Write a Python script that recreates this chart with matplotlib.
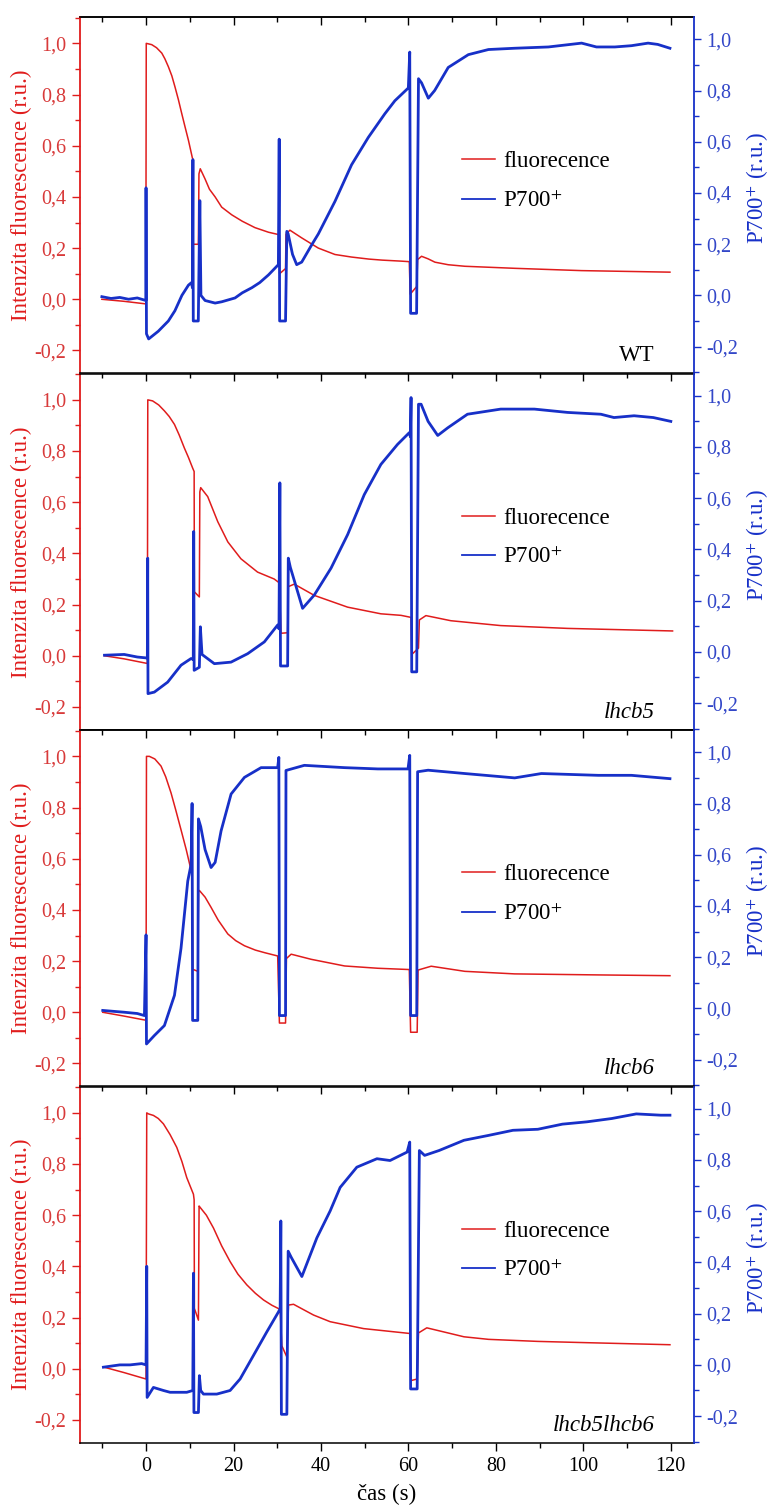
import matplotlib
matplotlib.use('Agg')
import matplotlib.pyplot as plt
from matplotlib.ticker import MultipleLocator, FuncFormatter
from matplotlib.lines import Line2D

plt.rcParams['font.family'] = ['Liberation Serif', 'DejaVu Serif']
plt.rcParams['mathtext.fontset'] = 'stix'

# ---------------- data ----------------
panel_labels = ['WT', 'lhcb5', 'lhcb6', 'lhcb5lhcb6']

# WT
wt_fluo_t = [-10.1, -5, -0.05, 0.05, 1.3, 2.4, 3.6, 4.3, 5.1, 5.9, 6.6, 7.4, 8.16, 8.9, 9.7, 10.6, 10.67, 10.72, 11.97,
             12.1, 12.4, 13.5, 14.5, 15.8, 17.3, 19.6, 22.0, 24.9, 28.0, 30.26, 30.5, 30.55, 31.9, 32.0, 32.9, 35.59,
             39.4, 43.2, 47.0, 51.0, 54.0, 58.4, 60.2, 60.4, 61.9, 62.1, 63.0, 64.5, 66.06, 69.1, 72.9, 84.3, 99.6,
             119.8]
wt_fluo = [0.0, -0.008, -0.018, 1.0, 0.995, 0.983, 0.962, 0.94, 0.909, 0.873, 0.831, 0.78, 0.726, 0.675, 0.621, 0.552,
           0.549, 0.215, 0.215, 0.49, 0.51, 0.47, 0.43, 0.40, 0.36, 0.33, 0.305, 0.28, 0.262, 0.253, 0.25, 0.10, 0.12,
           0.255, 0.27, 0.24, 0.20, 0.175, 0.165, 0.157, 0.153, 0.149, 0.147, 0.02, 0.05, 0.155, 0.168, 0.158, 0.145,
           0.135, 0.129, 0.121, 0.112, 0.106]
wt_p700_t = [-10.1, -8, -6, -4, -2, -0.05, 0.0, 0.1, 0.6, 2.8, 5.1, 6.6, 8.2, 9.7, 10.4, 10.6, 10.72, 10.8, 11.95,
             12.3, 12.55, 13.5, 15.8, 17.3, 20.35, 22.0, 24.2, 26.0, 28.0, 30.26, 30.45, 30.55, 31.9, 32.2, 32.5,
             33.5, 34.45, 35.6, 37.87, 39.4, 43.2, 47.0, 50.83, 54.6, 56.9, 59.98, 60.3, 60.5, 61.87, 62.3, 63.0,
             64.55, 66.0, 69.1, 73.7, 78.3, 84.3, 92.0, 99.6, 103.0, 107.2, 111.0, 114.8, 117.0, 119.8]
wt_p700 = [-0.005, -0.012, -0.008, -0.015, -0.01, -0.02, 0.42, -0.15, -0.17, -0.14, -0.10, -0.06, 0.0, 0.04, 0.05, 0.03,
           0.53, -0.10, -0.10, 0.37, 0.0, -0.02, -0.03, -0.025, -0.01, 0.01, 0.03, 0.05, 0.08, 0.12, 0.61, -0.10,
           -0.10, 0.25, 0.24, 0.16, 0.12, 0.13, 0.197, 0.24, 0.367, 0.51, 0.617, 0.709, 0.76, 0.81, 0.95, -0.07,
           -0.07, 0.846, 0.83, 0.77, 0.80, 0.89, 0.94, 0.96, 0.965, 0.97, 0.985, 0.97, 0.97, 0.975, 0.985, 0.98, 0.965]

# lhcb5
l5_fluo_t = [-9.5, -5, 0.3, 0.4, 1.5, 2.9, 4.2, 5.3, 6.5, 7.6, 8.76, 9.7, 10.67, 11.0, 11.05, 12.19, 12.3, 12.5, 14.1,
             16.4, 18.7, 21.7, 25.5, 29.3, 30.48, 30.86, 32.38, 32.5, 33.9, 38.47, 46.1, 53.7, 58.3, 60.6, 60.75,
             62.3, 62.5, 64.0, 69.7, 81.1, 96.4, 120.4]
l5_fluo = [0.0, -0.012, -0.03, 1.0, 0.996, 0.98, 0.957, 0.935, 0.904, 0.862, 0.812, 0.775, 0.733, 0.72, 0.25, 0.23,
           0.64, 0.657, 0.622, 0.524, 0.445, 0.379, 0.327, 0.30, 0.285, 0.088, 0.09, 0.27, 0.28, 0.236, 0.19, 0.164,
           0.158, 0.15, 0.005, 0.03, 0.14, 0.157, 0.137, 0.118, 0.107, 0.097]
l5_p700_t = [-9.5, -5, -2, 0.3, 0.38, 0.45, 1.9, 4.95, 8.0, 10.29, 10.8, 10.9, 11.0, 12.19, 12.42, 12.8, 15.62,
             19.43, 23.24, 27.05, 30.1, 30.4, 30.6, 30.75, 32.38, 32.53, 33.0, 35.8, 38.47, 42.3, 46.1, 49.9,
             53.7, 57.5, 60.2, 60.45, 60.6, 60.75, 61.9, 62.3, 62.9, 64.5, 66.7, 69.0, 73.5, 81.1, 88.8, 96.4,
             104.0, 107.0, 111.6, 116.0, 120.0]
l5_p700 = [-0.013, -0.01, -0.02, -0.024, 0.366, -0.163, -0.157, -0.118, -0.052, -0.026, -0.03, 0.47, -0.072, -0.06,
           0.098, -0.01, -0.046, -0.04, -0.007, 0.039, 0.105, 0.09, 0.66, -0.055, -0.055, 0.366, 0.33, 0.17, 0.222,
           0.327, 0.458, 0.614, 0.732, 0.81, 0.856, 0.84, 0.993, -0.078, -0.078, 0.967, 0.967, 0.90, 0.845, 0.875,
           0.928, 0.948, 0.948, 0.935, 0.928, 0.915, 0.922, 0.915, 0.90]

# lhcb6
l6_fluo_t = [-9.9, -5, -0.37, 0.0, 0.1, 0.76, 2.0, 3.43, 4.5, 5.72, 6.8, 8.0, 9.2, 10.3, 10.55, 10.69, 11.83, 12.0,
             12.2, 13.5, 14.87, 16.5, 18.7, 20.5, 22.5, 25.0, 27.1, 30.1, 30.5, 31.9, 32.1, 33.18, 37.76, 45.4, 53.0,
             60.2, 60.5, 62.0, 62.2, 65.2, 72.9, 84.3, 103.4, 119.8]
l6_fluo = [0.0, -0.015, -0.03, -0.03, 1.0, 1.0, 0.99, 0.962, 0.92, 0.857, 0.79, 0.713, 0.635, 0.555, 0.54, 0.168,
           0.16, 0.47, 0.476, 0.45, 0.41, 0.36, 0.306, 0.28, 0.26, 0.243, 0.233, 0.22, -0.042, -0.042, 0.21, 0.227,
           0.207, 0.181, 0.172, 0.167, -0.078, -0.078, 0.165, 0.18, 0.16, 0.15, 0.146, 0.143]
l6_p700_t = [-9.9, -5, -2, -0.37, 0.0, 0.1, 1.9, 4.2, 6.5, 8.0, 9.54, 10.3, 10.53, 10.65, 11.83, 11.98, 12.5, 13.5,
             14.87, 15.8, 17.16, 19.45, 22.5, 26.3, 30.1, 30.37, 30.5, 31.9, 32.0, 36.2, 45.4, 53.0, 59.9, 60.3, 60.5,
             61.9, 62.1, 64.5, 72.9, 84.3, 90.4, 103.4, 111.0, 119.8]
l6_p700 = [-0.008, -0.015, -0.02, -0.028, 0.287, -0.139, -0.106, -0.067, 0.051, 0.235, 0.497, 0.562, 0.80, -0.047,
           -0.047, 0.74, 0.71, 0.62, 0.55, 0.57, 0.693, 0.837, 0.902, 0.94, 0.94, 0.98, -0.028, -0.028, 0.929, 0.949,
           0.94, 0.935, 0.935, 0.988, -0.028, -0.028, 0.924, 0.93, 0.917, 0.90, 0.917, 0.91, 0.91, 0.897]

# lhcb5lhcb6
l56_fluo_t = [-9.75, -5, 0.0, 0.16, 0.54, 1.69, 2.8, 3.98, 5.5, 7.03, 8.2, 9.31, 10.84, 11.0, 11.06, 11.98, 12.13,
              12.4, 13.8, 15.42, 17.3, 19.22, 21.0, 23.04, 25.0, 26.86, 28.8, 30.67, 31.05, 32.2, 32.57, 33.73, 38.3,
              42.1, 49.75, 60.3, 60.6, 62.0, 62.3, 64.2, 72.7, 78.3, 89.6, 100.8, 119.8]
l56_fluo = [0.007, -0.015, -0.04, 1.0, 0.996, 0.99, 0.978, 0.957, 0.915, 0.865, 0.81, 0.747, 0.682, 0.66, 0.236, 0.19,
            0.636, 0.63, 0.60, 0.55, 0.48, 0.419, 0.37, 0.328, 0.295, 0.269, 0.248, 0.232, 0.09, 0.046, 0.249, 0.252,
            0.21, 0.184, 0.157, 0.138, -0.046, -0.04, 0.14, 0.16, 0.125, 0.115, 0.107, 0.102, 0.094]
l56_p700_t = [-9.75, -6, -3.66, -1, 0.0, 0.16, 0.25, 1.69, 3.98, 5.5, 9.31, 10.69, 10.84, 10.95, 11.98, 12.2, 12.5,
              13.13, 16.18, 19.22, 21.51, 24.57, 27.62, 30.29, 30.67, 30.82, 30.95, 32.2, 32.5, 33.2, 35.63, 39.06,
              42.1, 44.39, 48.2, 52.8, 55.8, 59.7, 60.3, 60.5, 62.0, 62.5, 63.7, 67.0, 72.7, 78.3, 83.9, 89.6, 95.2,
              100.8, 106.5, 112.1, 117.7, 119.8]
l56_p700 = [-0.009, 0.0, 0.0, 0.005, 0.0, 0.385, -0.127, -0.088, -0.1, -0.107, -0.107, -0.1, 0.358, -0.186, -0.186,
            -0.042, -0.1, -0.114, -0.114, -0.1, -0.055, 0.037, 0.129, 0.207, 0.22, 0.562, -0.193, -0.193, 0.444, 0.42,
            0.345, 0.496, 0.601, 0.693, 0.772, 0.805, 0.798, 0.831, 0.87, -0.094, -0.094, 0.837, 0.818, 0.837, 0.877,
            0.896, 0.916, 0.92, 0.94, 0.949, 0.962, 0.98, 0.975, 0.975]

fluo_t = [wt_fluo_t, l5_fluo_t, l6_fluo_t, l56_fluo_t]
fluo_v = [wt_fluo, l5_fluo, l6_fluo, l56_fluo]
p700_t = [wt_p700_t, l5_p700_t, l6_p700_t, l56_p700_t]
p700_v = [wt_p700, l5_p700, l6_p700, l56_p700]

x_ticks = [0, 20, 40, 60, 80, 100, 120]
y_ticks = [-0.2, 0.0, 0.2, 0.4, 0.6, 0.8, 1.0]

# ---------------- styling ----------------
RED = '#e01c1c'
RED_TXT = '#d83a3a'
BLUE = '#1730c8'
BLUE_TXT = '#3347c8'

def comma(v, pos=None):
    return ('%.1f' % v).replace('.', ',').replace('−', '-')

fig = plt.figure(figsize=(7.73, 15.09), dpi=100)
L, W = 80 / 773, 614 / 773
B0 = 1 - 1443 / 1509
T0 = 1 - 17 / 1509
H = (T0 - B0) / 4

for i in range(4):
    ax = fig.add_axes([L, T0 - (i + 1) * H, W, H])
    ax2 = ax.twinx()

    ax.plot(fluo_t[i], fluo_v[i], color=RED, lw=1.1, zorder=2)
    ax2.plot(p700_t[i], p700_v[i], color=BLUE, lw=2.0, zorder=3)

    ax.set_xlim(-15.1, 125.3)
    ax.set_ylim(-0.29, 1.103)
    ax2.set_ylim(-0.305, 1.087)

    ax.set_xticks(x_ticks)
    ax.xaxis.set_minor_locator(MultipleLocator(10))
    ax.set_yticks(y_ticks)
    ax.yaxis.set_minor_locator(MultipleLocator(0.1))
    ax2.set_yticks(y_ticks)
    ax2.yaxis.set_minor_locator(MultipleLocator(0.1))
    ax.yaxis.set_major_formatter(FuncFormatter(comma))
    ax2.yaxis.set_major_formatter(FuncFormatter(comma))

    ax.tick_params(axis='y', which='major', direction='out', length=6, width=1.0, color=RED,
                   labelcolor=RED_TXT, labelsize=14.5, pad=4)
    ax.tick_params(axis='y', which='minor', direction='out', length=3.5, width=1.0, color=RED)
    ax2.tick_params(axis='y', which='major', direction='out', length=5, width=1.0, color=BLUE,
                    labelcolor=BLUE_TXT, labelsize=14.5, pad=3.5)
    ax2.tick_params(axis='y', which='minor', direction='out', length=3.5, width=1.0, color=BLUE)

    if i == 3:
        ax.tick_params(axis='x', which='major', direction='out', length=6, width=1.0, labelsize=14.5, pad=4)
        ax.tick_params(axis='x', which='minor', direction='out', length=3.5, width=1.0)
        ax.set_xlabel('čas (s)', fontsize=16.5, labelpad=6)
    else:
        ax.tick_params(axis='x', which='both', bottom=False, labelbottom=False)

    sec = ax.secondary_xaxis('top')
    sec.set_xticks(x_ticks)
    sec.xaxis.set_minor_locator(MultipleLocator(10))
    sec.tick_params(axis='x', which='major', direction='in', length=6, width=1.0, labeltop=False)
    sec.tick_params(axis='x', which='minor', direction='in', length=3.5, width=1.0)
    sec.spines['top'].set_linewidth(1.1)

    for sp in ['top', 'bottom']:
        ax.spines[sp].set_color('black')
        ax.spines[sp].set_linewidth(1.1)
        ax2.spines[sp].set_visible(False)
    ax.spines['left'].set_color(RED)
    ax.spines['left'].set_linewidth(1.3)
    ax.spines['right'].set_visible(False)
    ax2.spines['left'].set_visible(False)
    ax2.spines['right'].set_color(BLUE)
    ax2.spines['right'].set_linewidth(1.3)

    ax.set_ylabel('Intenzita fluorescence (r.u.)', color=RED, fontsize=16.5)
    ax.yaxis.set_label_coords(-0.078, 0.5)
    ax2.set_ylabel('P700$^{+}$ (r.u.)', color=BLUE, fontsize=16.5, rotation=90)
    ax2.yaxis.set_label_coords(1.083, 0.52)

    handles = [Line2D([], [], color=RED, lw=1.1), Line2D([], [], color=BLUE, lw=1.3)]
    ax2.legend(handles, ['fluorecence', 'P700$^{+}$'], loc='upper left', bbox_to_anchor=(0.622, 0.623),
               frameon=False, fontsize=16.5, handlelength=1.45, handletextpad=0.35, borderpad=0,
               borderaxespad=0, labelspacing=0.8)

    ax2.text(0.936, 0.05, panel_labels[i], transform=ax2.transAxes, ha='right', va='center',
             fontsize=16.5, style='normal' if i == 0 else 'italic')

fig.savefig('out.png', dpi=100)
